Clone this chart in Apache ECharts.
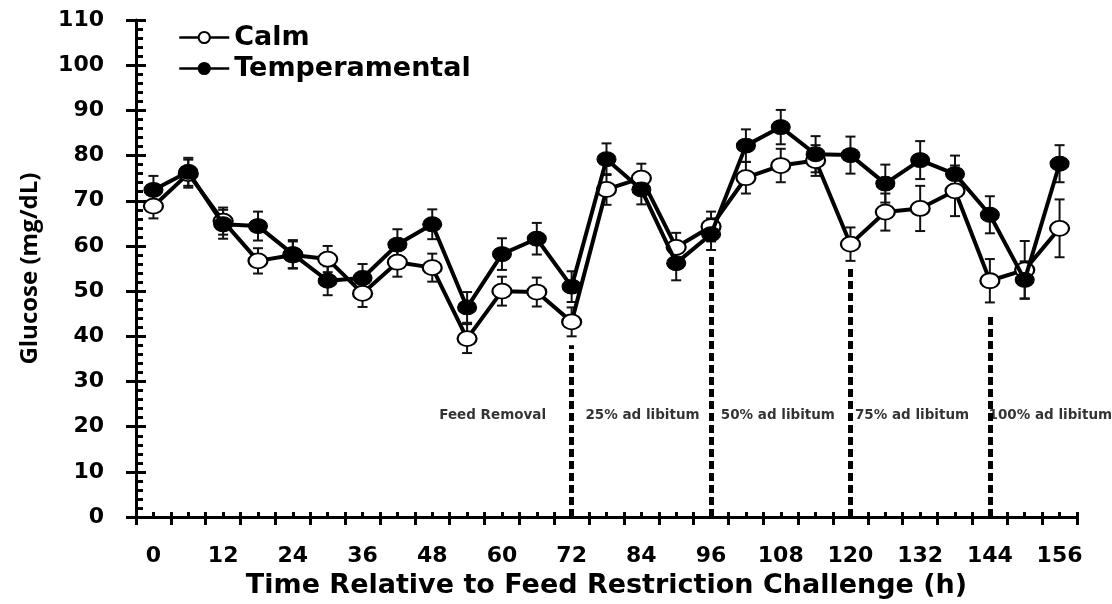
<!DOCTYPE html>
<html>
<head>
<meta charset="utf-8">
<script src="https://cdn.jsdelivr.net/npm/echarts@6/dist/echarts.min.js"></script>
<style>
  html, body { margin: 0; padding: 0; background: #fff; }
  #main { width: 1112px; height: 604px; }
</style>
</head>
<body>
<div id="main"></div>
<script>
// time points (h), one category every 6 h
const timeLabels = ['0','6','12','18','24','30','36','42','48','54','60','66','72','78','84',
  '90','96','102','108','114','120','126','132','138','144','150','156'];

// glucose means (mg/dL) and SEM
const calm = [68.8, 76.0, 65.5, 56.7, 58.0, 57.1, 49.5, 56.4, 55.2, 39.5, 50.0, 49.8, 43.2, 72.5,
  75.0, 59.7, 64.3, 75.1, 77.8, 78.9, 60.4, 67.5, 68.3, 72.2, 52.3, 54.7, 63.9];
const calmErr = [2.7, 3.1, 3.0, 2.8, 3.0, 2.9, 3.0, 3.2, 3.1, 3.2, 3.2, 3.2, 3.2, 3.4,
  3.2, 3.2, 3.3, 3.5, 3.7, 3.4, 3.7, 4.1, 5.0, 5.6, 4.8, 6.4, 6.4];
const temperamental = [72.4, 76.4, 64.8, 64.4, 58.2, 52.3, 52.9, 60.3, 64.8, 46.4, 58.2, 61.6, 51.0, 79.2,
  72.5, 56.2, 62.6, 82.2, 86.3, 80.3, 80.1, 73.8, 79.0, 75.9, 66.9, 52.5, 78.2];
const temperamentalErr = [3.1, 3.1, 3.2, 3.2, 3.1, 3.2, 3.1, 3.4, 3.3, 3.4, 3.5, 3.5, 3.4, 3.5,
  3.3, 3.8, 3.5, 3.6, 3.8, 4.0, 4.1, 4.2, 4.2, 4.1, 4.1, 4.1, 4.1];

// feeding phase dividers (h) and how high each dashed line reaches (mg/dL)
const dividerAt = ['72', '96', '120', '144'];
const dividerTop = [38, 57.7, 55, 44.8];

// phase labels
const phaseNames = ['Feed Removal', '25% ad libitum', '50% ad libitum', '75% ad libitum', '100% ad libitum'];
const phaseHour = [58.4, 84.2, 107.5, 130.6, 154.4];
const phaseLevel = 22.4;

const yTicks = { min: 0, max: 110, step: 10 };

const boldFont = 'DejaVu Sans';

function errorBars(name, values, errs, z) {
  return {
    name: name,
    type: 'custom',
    xAxisIndex: 0,
    yAxisIndex: 0,
    z: z,
    silent: true,
    encode: { x: 0, y: [1, 2] },
    data: values.map((v, i) => [i, v - errs[i], v + errs[i]]),
    renderItem: function (params, api) {
      const lo = api.coord([api.value(0), api.value(1)]);
      const hi = api.coord([api.value(0), api.value(2)]);
      const w = 5;
      const style = { stroke: '#111', lineWidth: 2 };
      return {
        type: 'group',
        children: [
          { type: 'line', shape: { x1: lo[0], y1: lo[1], x2: hi[0], y2: hi[1] }, style: style },
          { type: 'line', shape: { x1: lo[0] - w, y1: lo[1], x2: lo[0] + w, y2: lo[1] }, style: style },
          { type: 'line', shape: { x1: hi[0] - w, y1: hi[1], x2: hi[0] + w, y2: hi[1] }, style: style }
        ]
      };
    }
  };
}

const chart = echarts.init(document.getElementById('main'), null, { renderer: 'canvas' });

const option = {
  animation: false,
  backgroundColor: '#fff',
  grid: { left: 136, top: 20, width: 941, height: 515 },
  legend: {
    data: ['Calm', 'Temperamental'],
    orient: 'vertical',
    left: 178,
    top: 24,
    padding: 0,
    itemWidth: 50,
    itemHeight: 14,
    itemGap: 4,
    lineStyle: { width: 2.5 },
    textStyle: { fontFamily: boldFont, fontWeight: 'bold', fontSize: 27, color: '#000', lineHeight: 26 }
  },
  xAxis: [
    {
      type: 'category',
      data: timeLabels,
      boundaryGap: true,
      name: 'Time Relative to Feed Restriction Challenge (h)',
      nameLocation: 'middle',
      nameGap: 43,
      nameTextStyle: { fontFamily: boldFont, fontWeight: 'bold', fontSize: 27, color: '#000' },
      axisLine: { onZero: false, lineStyle: { color: '#000', width: 3 } },
      axisTick: { show: true, interval: 0, length: 8, lineStyle: { color: '#000', width: 3 } },
      axisLabel: { interval: 1, margin: 28, fontFamily: boldFont, fontWeight: 'bold', fontSize: 22, color: '#000' },
      splitLine: { show: false }
    },
    {
      type: 'value',
      min: -3,
      max: 159,
      interval: 3,
      position: 'bottom',
      axisLine: { show: false, onZero: false },
      axisTick: { show: true, inside: true, length: 5, lineStyle: { color: '#000', width: 3 } },
      axisLabel: { show: false },
      splitLine: { show: false }
    }
  ],
  yAxis: [
    {
      type: 'value',
      min: yTicks.min,
      max: yTicks.max,
      interval: yTicks.step,
      name: 'Glucose (mg/dL)',
      nameLocation: 'middle',
      nameGap: 94,
      nameTextStyle: { fontFamily: 'Open Sans', fontWeight: 'bold', fontSize: 24, color: '#000' },
      axisLine: { show: true, onZero: false, lineStyle: { color: '#000', width: 3 } },
      axisTick: { show: true, length: 10, lineStyle: { color: '#000', width: 3 } },
      axisLabel: { margin: 32, fontFamily: boldFont, fontWeight: 'bold', fontSize: 22, color: '#000' },
      splitLine: { show: false }
    },
    {
      type: 'value',
      min: yTicks.min,
      max: yTicks.max,
      interval: yTicks.step,
      position: 'left',
      axisLine: { show: false, onZero: false },
      axisTick: { show: true, inside: true, length: 10, lineStyle: { color: '#000', width: 3 } },
      minorTick: { show: true, splitNumber: 5, length: 7, lineStyle: { color: '#000', width: 3 } },
      axisLabel: { show: false },
      splitLine: { show: false }
    }
  ],
  series: [
    errorBars('calmErr', calm, calmErr, 2),
    errorBars('tempErr', temperamental, temperamentalErr, 2),
    {
      name: 'Calm',
      type: 'line',
      z: 3,
      data: calm,
      symbol: 'circle',
      symbolSize: [19, 15],
      showAllSymbol: true,
      lineStyle: { color: '#000', width: 4 },
      itemStyle: { color: '#fff', borderColor: '#000', borderWidth: 2 },
      markLine: {
        silent: true,
        symbol: 'none',
        label: { show: false },
        lineStyle: { color: '#000', width: 5, type: [8, 4] },
        data: dividerAt.map((h, i) => [{ coord: [h, 0] }, { coord: [h, dividerTop[i]] }])
      }
    },
    {
      name: 'Temperamental',
      type: 'line',
      z: 4,
      data: temperamental,
      symbol: 'circle',
      symbolSize: [19, 15],
      showAllSymbol: true,
      lineStyle: { color: '#000', width: 4 },
      itemStyle: { color: '#000', borderColor: '#000', borderWidth: 1 }
    },
    {
      name: 'phases',
      type: 'scatter',
      xAxisIndex: 1,
      yAxisIndex: 0,
      symbolSize: 0,
      silent: true,
      data: phaseNames.map((n, i) => ({ name: n, value: [phaseHour[i], phaseLevel] })),
      label: {
        show: true,
        position: 'inside',
        formatter: '{b}',
        fontFamily: boldFont,
        fontWeight: 'bold',
        fontSize: 13.5,
        color: '#000',
        textBorderWidth: 0
      }
    }
  ]
};

chart.setOption(option);
</script>
</body>
</html>
